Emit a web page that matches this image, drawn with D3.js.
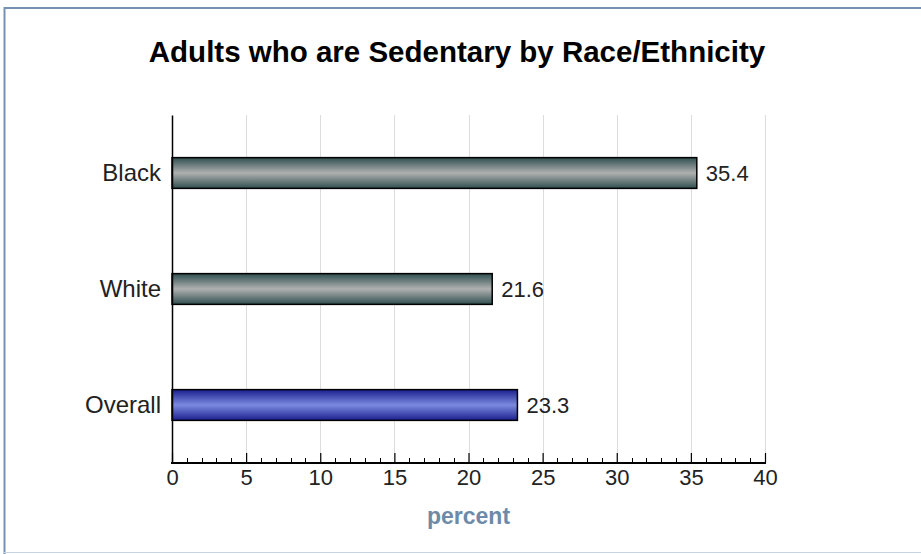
<!DOCTYPE html>
<html><head><meta charset="utf-8">
<script src="https://cdn.jsdelivr.net/npm/d3@7"></script>
<style>body{margin:0;background:#fff;}svg{display:block;font-family:"Liberation Sans",Arial,sans-serif;}</style>
</head><body><svg id="c" width="921" height="554"></svg>
<script>
const categories = ["Black", "White", "Overall"];
const values = [35.4, 21.6, 23.3];
const highlight = [false, false, true];
const xTicks = [0, 5, 10, 15, 20, 25, 30, 35, 40];
const title = "Adults who are Sedentary by Race/Ethnicity";
const xLabel = "percent";

const FONT = "Liberation Sans, Arial, sans-serif";
const svg = d3.select("#c");
// frame
svg.append("rect").attr("x",0).attr("y",0).attr("width",921).attr("height",554).attr("fill","#fff");
svg.append("line").attr("x1",4.5).attr("x2",4.5).attr("y1",7).attr("y2",554).attr("stroke","#7692b2").attr("stroke-width",2);
svg.append("line").attr("x1",4).attr("x2",921).attr("y1",8).attr("y2",8).attr("stroke","#7692b2").attr("stroke-width",2);
svg.append("line").attr("x1",4).attr("x2",921).attr("y1",552.5).attr("y2",552.5).attr("stroke","#c8d4e2").attr("stroke-width",1);

const defs = svg.append("defs");
function grad(id, edge, mid){
  const g = defs.append("linearGradient").attr("id",id).attr("x1",0).attr("y1",0).attr("x2",0).attr("y2",1);
  g.append("stop").attr("offset","0%").attr("stop-color",edge);
  g.append("stop").attr("offset","50%").attr("stop-color",mid);
  g.append("stop").attr("offset","100%").attr("stop-color",edge);
}
grad("gGray","#2f4f50","#b0b0b0");
grad("gBlue","#1c1f8e","#7a8ae0");

const L = 172, R = 765, T = 115, B = 463;
const x = d3.scaleLinear().domain([0,40]).range([L,R]);
const y = d3.scaleBand().domain(categories).range([T,B]).paddingInner(0.735).paddingOuter(0.3675);

// gridlines
svg.append("g").selectAll("line").data(xTicks.slice(1)).join("line")
  .attr("x1",d=>Math.round(x(d))+0.5).attr("x2",d=>Math.round(x(d))+0.5)
  .attr("y1",T).attr("y2",B).attr("stroke","#dcdcdc").attr("stroke-width",1);

// title
svg.append("text").attr("x",457).attr("y",62).attr("text-anchor","middle")
  .attr("font-size",29.5).attr("font-weight","bold").attr("fill","#000").text(title);

// bars
svg.append("g").selectAll("rect").data(values).join("rect")
  .attr("x",x(0)).attr("y",(d,i)=>y(categories[i]))
  .attr("width",d=>x(d)-x(0)).attr("height",y.bandwidth())
  .attr("fill",(d,i)=>highlight[i]?"url(#gBlue)":"url(#gGray)")
  .attr("stroke","#000").attr("stroke-width",1.5);

// value labels
svg.append("g").selectAll("text").data(values).join("text")
  .attr("x",d=>x(d)+9).attr("y",(d,i)=>y(categories[i])+y.bandwidth()/2+8)
  .attr("font-size",22).attr("fill","#222").text(d=>d.toFixed(1));

// y axis
const ya = svg.append("g").attr("transform",`translate(${L},0)`).call(d3.axisLeft(y).tickSize(0).tickPadding(11));
ya.select(".domain").attr("stroke","#000").attr("stroke-width",1.5);
ya.selectAll("text").attr("font-size",24).attr("fill","#222").attr("font-family",FONT);

// x axis: minor ticks
const minor = d3.range(0,41,1).filter(d=>d%5!==0);
svg.append("g").selectAll("line").data(minor).join("line")
  .attr("x1",d=>Math.round(x(d))+0.5).attr("x2",d=>Math.round(x(d))+0.5)
  .attr("y1",B).attr("y2",B-5).attr("stroke","#000").attr("stroke-width",1);
const xa = svg.append("g").attr("transform",`translate(0,${B})`)
  .call(d3.axisTop(x).tickValues(xTicks).tickSize(10).tickFormat(d3.format("d")));
xa.select(".domain").remove();
xa.selectAll("line").attr("stroke","#000").attr("stroke-width",1.2);
xa.selectAll("text").attr("y",22).attr("dy",0).attr("font-size",22).attr("fill","#222")
  .attr("font-family",FONT);
svg.append("line").attr("x1",L-1).attr("x2",R+1).attr("y1",B).attr("y2",B).attr("stroke","#000").attr("stroke-width",2);

svg.append("text").attr("x",(L+R)/2).attr("y",524).attr("text-anchor","middle")
  .attr("font-size",23).attr("font-weight","bold").attr("fill","#6d8aa8").text(xLabel);
</script></body></html>
